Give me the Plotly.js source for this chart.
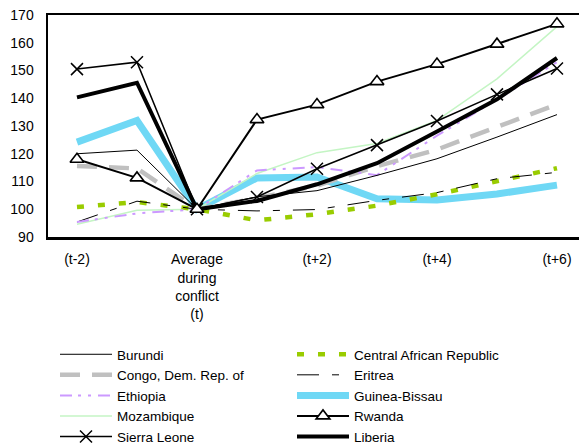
<!DOCTYPE html>
<html>
<head>
<meta charset="utf-8">
<script src="https://cdn.plot.ly/plotly-3.0.1.min.js"></script>
<style>
  html, body { margin: 0; padding: 0; background: #fff; overflow: hidden; }
  #chart { width: 579px; height: 444px; }
</style>
</head>
<body>
<div id="chart"></div>
<script>
// Period labels (index 2 is the conflict average, used as base = 100)
const periods = ['(t-2)', '(t-1)', 'Average<br>during<br>conflict<br>(t)', '(t+1)', '(t+2)', '(t+3)', '(t+4)', '(t+5)', '(t+6)'];
const labeledPeriods = [0, 2, 4, 6, 8];

// Index values (average during conflict = 100)
const burundi      = [120.0, 121.3, 100, 104.5, 106.7, 112.2, 118.2, 126.0, 134.1];
const car          = [100.8, 102.6, 100,  96.0,  98.2, 101.3, 105.4, 110.1, 114.8];
const congo        = [115.6, 114.7, 100, 104.0, 108.5, 115.5, 121.5, 129.5, 137.8];
const eritrea      = [ 95.4, 102.9, 100,  99.4,  99.9, 103.2, 106.0, 111.0, 113.3];
const ethiopia     = [ 95.4,  98.5, 100, 114.0, 115.2, 112.3, 126.5, 139.5, 153.0];
const guineaBissau = [124.2, 132.0, 100, 111.3, 111.6, 103.8, 103.3, 105.5, 108.7];
const mozambique   = [ 94.6,  99.6, 100, 112.9, 120.4, 123.7, 132.0, 147.0, 165.8];
const rwanda       = [118.0, 111.3, 100, 132.3, 137.7, 146.0, 152.3, 159.5, 166.8];
const sierraLeone  = [150.5, 153.0, 100, 104.4, 114.6, 123.1, 131.8, 141.4, 150.7];
const liberia      = [140.3, 145.6, 100, 103.0, 109.0, 116.6, 128.0, 139.6, 154.5];

const xIdx = periods.map((_, i) => i);

function series(name, y, rank, line, extra) {
  return Object.assign({
    type: 'scatter', mode: 'lines', name: name, x: xIdx, y: y,
    legendrank: rank, line: line, hoverinfo: 'skip'
  }, extra || {});
}

// Drawn bottom to top; legendrank keeps the two-column legend order
const traces = [
  series('Guinea-Bissau', guineaBissau, 6, {color: '#6fd8f5', width: 7}),
  series('Congo, Dem. Rep. of', congo, 3, {color: '#c0c0c0', width: 4.5, dash: '20px,12px'}),
  series('Mozambique', mozambique, 7, {color: '#c4f5c4', width: 1.5}),
  series('Central African Republic', car, 2, {color: '#99cc00', width: 4.5, dash: '7px,14px'}),
  series('Eritrea', eritrea, 4, {color: '#000000', width: 1, dash: '22px,13px,7px,13px'}),
  series('Ethiopia', ethiopia, 5, {color: '#cc99ff', width: 2, dash: '12px,6px,3px,7px,3px,7px'}),
  series('Burundi', burundi, 1, {color: '#000000', width: 1}),
  series('Liberia', liberia, 10, {color: '#000000', width: 4}),
  series('Sierra Leone', sierraLeone, 9, {color: '#000000', width: 1.5},
    {mode: 'lines+markers', marker: {symbol: 'x-thin-open', size: 12, color: '#000', line: {width: 1.5, color: '#000'}}}),
  series('Rwanda', rwanda, 8, {color: '#000000', width: 2},
    {mode: 'lines+markers', marker: {symbol: 'triangle-up', size: 12, color: '#fff', line: {width: 1.6, color: '#000'}}})
];

const layout = {
  width: 579, height: 444,
  margin: {l: 48, r: 0, t: 15, b: 207},
  paper_bgcolor: '#fff', plot_bgcolor: '#fff',
  font: {family: '"Liberation Sans", Arial, sans-serif', size: 14, color: '#000'},
  showlegend: true,
  xaxis: {
    range: [-0.483, 8.367], showgrid: false, zeroline: false,
    showline: true, mirror: true, linecolor: '#000', linewidth: 2.5,
    ticks: '', tickmode: 'array',
    tickvals: labeledPeriods,
    ticktext: labeledPeriods.map(i => periods[i]),
    ticklabelstandoff: 8
  },
  yaxis: {
    range: [90, 170], dtick: 10, showgrid: false, zeroline: false,
    showline: true, linecolor: '#000', linewidth: 2.5, ticks: '',
    ticklabelstandoff: 9
  },
  legend: {
    orientation: 'h', xref: 'container', yref: 'container',
    x: 55 / 579, y: 1 - 339 / 444, xanchor: 'left', yanchor: 'top',
    itemwidth: 52, entrywidthmode: 'pixels', entrywidth: 170,
    traceorder: 'normal', font: {size: 13.5}, bgcolor: 'rgba(0,0,0,0)'
  }
};

Plotly.newPlot('chart', traces, layout, {displayModeBar: false, staticPlot: true});
</script>
</body>
</html>
